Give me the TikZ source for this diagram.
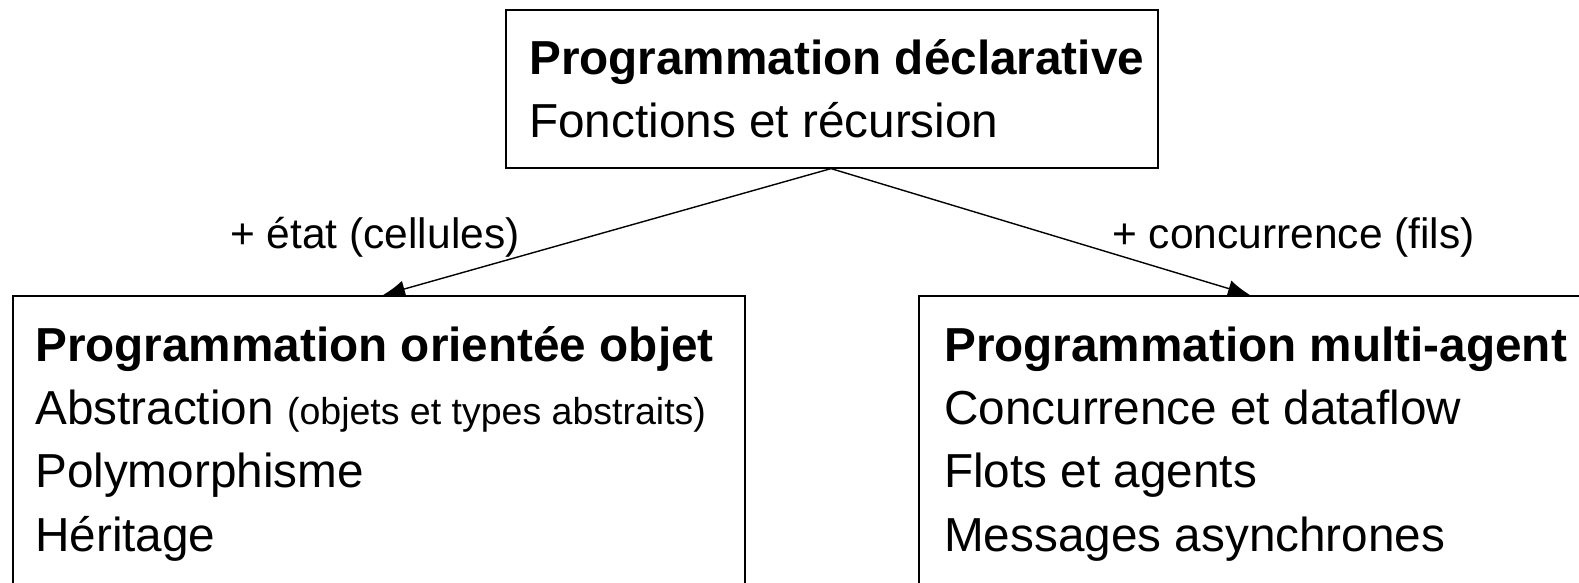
\documentclass[tikz,border=0pt]{standalone}
\usepackage{fontspec}
\setmainfont{Liberation Sans}
\usetikzlibrary{arrows.meta}
\tikzset{
  box/.style={draw=black, line width=1.6pt, fill=none, inner sep=0pt, anchor=north west},
  txt/.style={inner sep=0pt, anchor=base west, font=\fontsize{47.7}{56}\selectfont},
  ttl/.style={txt, font=\fontsize{47.7}{56}\selectfont\bfseries},
  lbl/.style={inner sep=0pt, anchor=base west, font=\fontsize{42.5}{50}\selectfont},
  conn/.style={draw=black, line width=1.4pt, -{Latex[length=22pt,width=17pt]}}
}
\begin{document}
\begin{tikzpicture}[x=1pt,y=-1pt]
\useasboundingbox (0,0) rectangle (1579,582);
\clip (0,0) rectangle (1579,582);
\fill[white] (0,0) rectangle (1579,582);
% boxes
\node[box, minimum width=652pt, minimum height=158pt] (top) at (505,9) {};
\node[box, minimum width=732pt, minimum height=320pt] (left) at (12,295) {};
\node[box, minimum width=700pt, minimum height=320pt] (right) at (918,295) {};
% top box text
\node[ttl] (t1) at (529,74) {Programmation déclarative};
\node[txt] (t2) at (529,137) {Fonctions et récursion};
% left box text
\node[ttl] (l1) at (35,361) {Programmation orientée objet};
\node[txt] (l2) at (35,424) {Abstraction {\fontsize{37.5}{44}\selectfont(objets et types abstraits)}};
\node[txt] (l3) at (35,487) {Polymorphisme};
\node[txt] (l4) at (35,551) {Héritage};
% right box text
\node[ttl] (r1) at (944,361) {Programmation multi-agent};
\node[txt] (r2) at (944,424) {Concurrence et dataflow};
\node[txt] (r3) at (944,487) {Flots et agents};
\node[txt] (r4) at (944,551) {Messages asynchrones};
% labels
\node[lbl] (la) at (230,248) {+ état (cellules)};
\node[lbl] (lb) at (1112,248) {+ concurrence (fils)};
% connectors
\draw[conn] ([xshift=326pt]top.south west) -- ([xshift=371pt]left.north west);
\draw[conn] ([xshift=326pt]top.south west) -- ([xshift=332pt]right.north west);
\end{tikzpicture}
\end{document}
